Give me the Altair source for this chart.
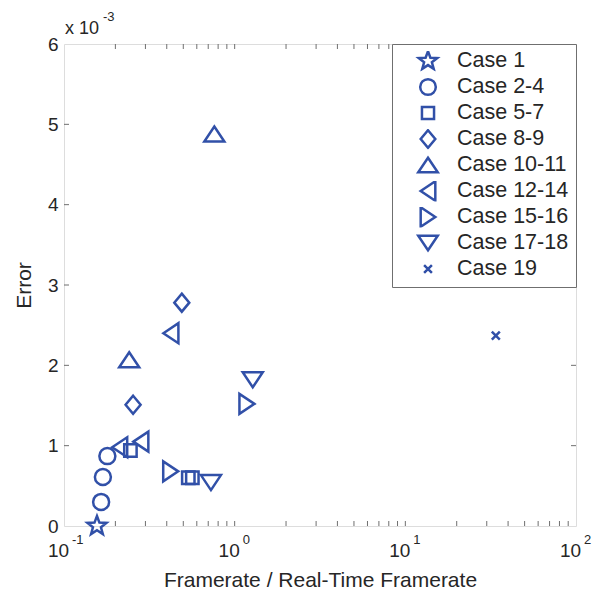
import math
import altair as alt
import pandas as pd

# ---------------- data (x: framerate ratio, y: error in units of 1e-3) -------------
cases = ["Case 1", "Case 2-4", "Case 5-7", "Case 8-9", "Case 10-11",
         "Case 12-14", "Case 15-16", "Case 17-18", "Case 19"]
case1_x = [0.156];                 case1_y = [0.00]
case2_4_x = [0.165, 0.169, 0.1795]; case2_4_y = [0.30, 0.61, 0.87]
case5_7_x = [0.245, 0.535, 0.565];  case5_7_y = [0.94, 0.60, 0.60]
case8_9_x = [0.254, 0.49];          case8_9_y = [1.51, 2.78]
case10_11_x = [0.241, 0.76];        case10_11_y = [2.07, 4.88]
case12_14_x = [0.212, 0.282, 0.423]; case12_14_y = [0.98, 1.05, 2.40]
case15_16_x = [0.422, 1.18];        case15_16_y = [0.68, 1.52]
case17_18_x = [0.726, 1.276];       case17_18_y = [0.54, 1.82]
case19_x = [33.9];                  case19_y = [2.37]

x_tick_values = [0.1, 1, 10, 100]
x_tick_exponents = ["-1", "0", "1", "2"]
x_inner_major = [1, 10]
x_minor = [m * d for d in (0.1, 1, 10) for m in range(2, 10)]
y_tick_values = [0, 1, 2, 3, 4, 5, 6]
y_inner_ticks = [1, 2, 3, 4, 5]

series_x = [case1_x, case2_4_x, case5_7_x, case8_9_x, case10_11_x,
            case12_14_x, case15_16_x, case17_18_x, case19_x]
series_y = [case1_y, case2_4_y, case5_7_y, case8_9_y, case10_11_y,
            case12_14_y, case15_16_y, case17_18_y, case19_y]
rows = []
for name, xs, ys in zip(cases, series_x, series_y):
    for xv, yv in zip(xs, ys):
        rows.append({"case": name, "x": xv, "y": yv})
df = pd.DataFrame(rows)

# ---------------- styling ----------------
W, H = 512, 482
BLUE = "#3150A8"
FRAME = "#6f6f6f"
TXT = "#262626"
FONT = "Liberation Sans"

def star_path(ro=1.0, ri=0.42):
    pts = []
    for i in range(10):
        r = ro if i % 2 == 0 else ri
        a = -math.pi / 2 + i * math.pi / 5
        pts.append(f"{r*math.cos(a):.3f},{r*math.sin(a):.3f}")
    return "M" + "L".join(pts) + "Z"

shapes = [
    star_path(),
    "M0.8,0A0.8,0.8,0,1,1,-0.8,0A0.8,0.8,0,1,1,0.8,0Z",
    "M-0.62,-0.62L0.62,-0.62L0.62,0.62L-0.62,0.62Z",
    "M0,-0.9L0.75,0L0,0.9L-0.75,0Z",
    "M0,-0.75L1,0.75L-1,0.75Z",
    "M-0.75,0L0.75,-1L0.75,1Z",
    "M0.75,0L-0.75,-1L-0.75,1Z",
    "M0,0.75L1,-0.75L-1,-0.75Z",
    "M-0.4,-0.4L0.4,0.4M-0.4,0.4L0.4,-0.4",
]

xscale = alt.Scale(type="log", domain=[0.1, 100], nice=False)
yscale = alt.Scale(domain=[0, 6], nice=False, zero=False)

X_AXIS = alt.Axis(
    values=x_tick_values, labelExpr="'10'", title="Framerate / Real-Time Framerate",
    grid=False, ticks=False, domain=False, labelFontSize=19, labelPadding=15,
    labelOffset=-6, labelOverlap=False, labelBound=False, labelFlush=False,
    titleFontSize=21, titleFontWeight="normal", titlePadding=9,
    labelColor=TXT, titleColor=TXT, labelFont=FONT, titleFont=FONT)
Y_AXIS = alt.Axis(
    values=y_tick_values, title="Error", grid=False, ticks=False, domain=False,
    labelFontSize=19, labelPadding=6, labelOverlap=False, labelFlush=False,
    titleFontSize=21, titleFontWeight="normal", titlePadding=13,
    labelColor=TXT, titleColor=TXT, labelFont=FONT, titleFont=FONT)

points = alt.Chart(df).mark_point(
    filled=False, strokeWidth=2.5, size=400, color=BLUE, opacity=1
).encode(
    x=alt.X("x:Q", scale=xscale, axis=X_AXIS, title="Framerate / Real-Time Framerate"),
    y=alt.Y("y:Q", scale=yscale, axis=Y_AXIS, title="Error"),
    shape=alt.Shape("case:N", scale=alt.Scale(domain=cases, range=shapes),
                    sort=cases,
                    legend=alt.Legend(
                        title=None, orient="top-right", offset=0,
                        strokeColor=FRAME, fillColor="white", padding=7,
                        labelFontSize=21.5, labelFont=FONT, labelColor=TXT,
                        symbolSize=380, symbolStrokeWidth=2.5,
                        symbolStrokeColor=BLUE, symbolFillColor="transparent",
                        symbolOffset=18, labelOffset=18, rowPadding=4,
                        clipHeight=20)),
)

df_xmaj = pd.DataFrame({"v": x_inner_major + x_minor})
df_yt = pd.DataFrame({"v": y_inner_ticks})

def xrule(y0, y1):
    return alt.Chart(df_xmaj).mark_rule(color=FRAME, strokeWidth=1).encode(
        x=alt.X("v:Q", scale=xscale, axis=X_AXIS, title="Framerate / Real-Time Framerate"),
        y=alt.value(y0), y2=alt.value(y1))

def yrule(x0, x1):
    return alt.Chart(df_yt).mark_rule(color=FRAME, strokeWidth=1).encode(
        y=alt.Y("v:Q", scale=yscale, axis=Y_AXIS, title="Error"),
        x=alt.value(x0), x2=alt.value(x1))

ticks = [xrule(H, H - 5), xrule(0, 5), yrule(0, 5), yrule(W, W - 5)]

df_exp = pd.DataFrame({"v": x_tick_values, "t": x_tick_exponents})
exps = alt.Chart(df_exp).mark_text(
    align="left", baseline="middle", dx=8, fontSize=13, font=FONT, color=TXT
).encode(x=alt.X("v:Q", scale=xscale, axis=X_AXIS, title="Framerate / Real-Time Framerate"),
         y=alt.value(H + 14), text="t:N")

df_mult = pd.DataFrame({"t": ["x 10"], "e": ["-3"]})
mult = alt.Chart(df_mult).mark_text(
    align="left", baseline="alphabetic", fontSize=18, font=FONT, color=TXT
).encode(x=alt.value(1), y=alt.value(-10), text="t:N")
mult_exp = alt.Chart(df_mult).mark_text(
    align="left", baseline="alphabetic", fontSize=13, font=FONT, color=TXT
).encode(x=alt.value(39), y=alt.value(-23), text="e:N")

chart = alt.layer(*ticks, points, exps, mult, mult_exp).properties(
    width=W, height=H,
    padding={"left": 64, "top": 44, "right": 16, "bottom": 66},
    autosize=alt.AutoSizeParams(type="none"),
).configure_view(stroke=FRAME, strokeWidth=1).configure(background="white")

chart.save("out.html", embed_options={"renderer": "svg", "actions": False})
